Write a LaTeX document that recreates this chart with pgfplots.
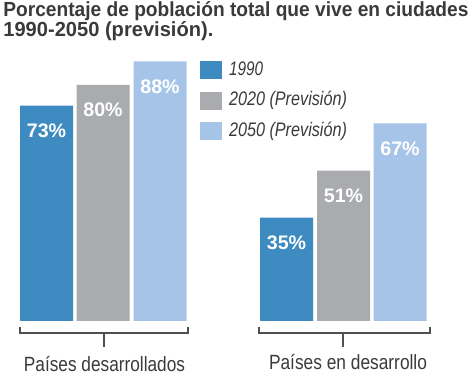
\documentclass[border=0pt]{standalone}
\usepackage{pgfplots}
\pgfplotsset{compat=1.18}
\usepackage{fontspec}
\usepackage{graphicx}
\setmainfont{Liberation Sans}
\definecolor{cA}{HTML}{3D8BC0}
\definecolor{cB}{HTML}{A9ABAE}
\definecolor{cC}{HTML}{A6C4E8}
\definecolor{txt}{HTML}{3A3A3A}
\definecolor{brk}{HTML}{505050}
\newcommand{\fw}[2]{\resizebox{#1}{\height}{#2}}
\begin{document}
\begin{tikzpicture}
\path[use as bounding box] (0,0) rectangle (235.5pt,186.5pt);
\begin{axis}[
  at={(0,0)}, anchor=south west, scale only axis,
  width=235.5pt, height=186.5pt,
  xmin=0, xmax=471, ymin=-17.63, ymax=108.81,
  axis lines=none, clip=false,
  /pgf/number format/assume math mode=true,
  ybar, bar width=53, bar shift=0pt,
  nodes near coords={\pgfmathprintnumber{\pgfplotspointmeta}\%},
  every node near coord/.append style={anchor=center, yshift=-12.5pt,
    font=\fontsize{9.8}{10}\selectfont\bfseries, text=white},
  legend style={at={(axis cs:200,88.1)}, anchor=north west, draw=none, fill=none,
    inner sep=0pt, outer sep=0pt, row sep=6.25pt, column sep=3.5pt,
    font=\fontsize{9.8}{10}\selectfont\itshape, text=txt,
    nodes={inner sep=0pt, text height=7pt, text depth=2pt}},
  legend cell align=left,
  legend image code/.code={\fill[#1] (0pt,-4.5pt) rectangle (11pt,4.5pt);},
]
\addplot[fill=cA, draw=none] coordinates {(46.5,73) (286.5,35)};
\addplot[fill=cB, draw=none] coordinates {(103,80) (343.5,51)};
\addplot[fill=cC, draw=none] coordinates {(160,88) (400,67)};
\legend{\fw{17pt}{1990}, \fw{59pt}{2020 (Previsión)}, \fw{59pt}{2050 (Previsión)}}

\node[anchor=base west, inner sep=0pt, font=\fontsize{10.2}{10}\selectfont\bfseries, text=txt]
  at (axis cs:3,103.05) {\fw{232.5pt}{Porcentaje de población total que vive en ciudades}};
\node[anchor=base west, inner sep=0pt, font=\fontsize{10.2}{10}\selectfont\bfseries, text=txt]
  at (axis cs:3,96.27) {\fw{105pt}{1990-2050 (previsión).}};

\draw[brk, line width=1pt] (axis cs:20,-2.03) -- (axis cs:20,-4.07) -- (axis cs:188,-4.07) -- (axis cs:188,-2.03);
\draw[brk, line width=1pt] (axis cs:104,-4.07) -- (axis cs:104,-8.81);
\draw[brk, line width=1pt] (axis cs:259,-2.03) -- (axis cs:259,-4.07) -- (axis cs:430,-4.07) -- (axis cs:430,-2.03);
\draw[brk, line width=1pt] (axis cs:343,-4.07) -- (axis cs:343,-8.81);

\node[anchor=base, inner sep=0pt, font=\fontsize{10.3}{10}\selectfont, text=txt]
  at (axis cs:104.5,-17.1) {\fw{80.5pt}{Países desarrollados}};
\node[anchor=base, inner sep=0pt, font=\fontsize{10.3}{10}\selectfont, text=txt]
  at (axis cs:348,-16.6) {\fw{79pt}{Países en desarrollo}};
\end{axis}
\end{tikzpicture}
\end{document}
